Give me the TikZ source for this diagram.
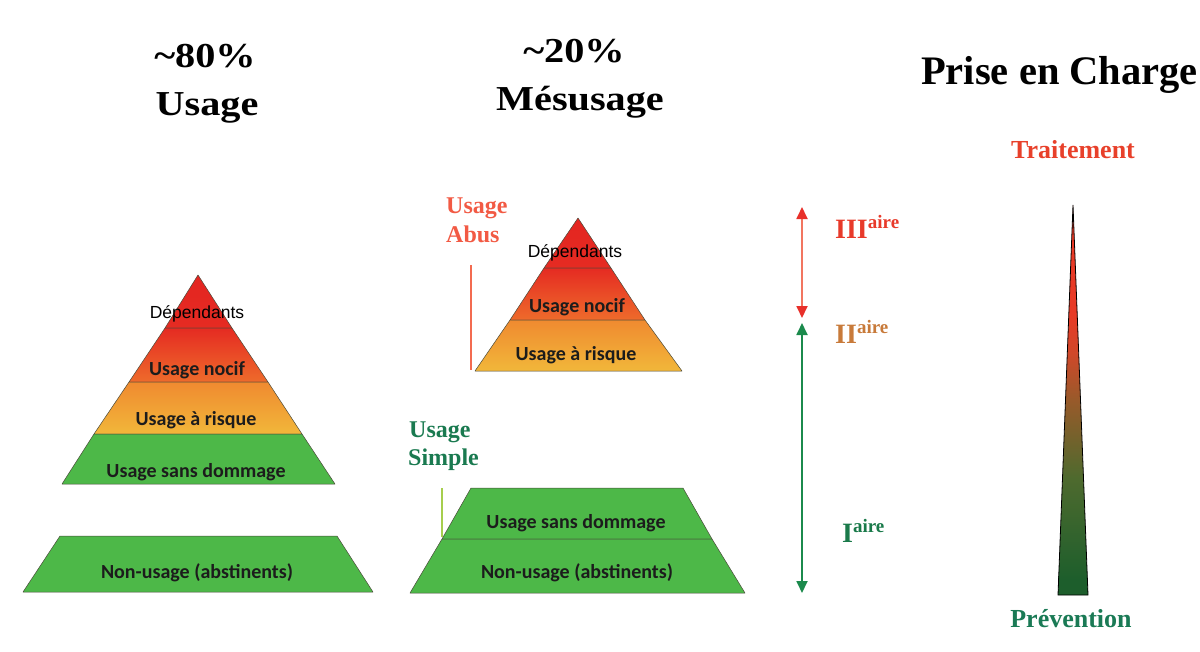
\documentclass[tikz,border=0pt]{standalone}
\usepackage{fontspec}
\setmainfont{Liberation Serif}
\newfontfamily\calfont{Carlito}
\newfontfamily\arifont{Liberation Sans}
\newfontfamily\hdrfont[FakeStretch=1.15]{Liberation Serif}
\usetikzlibrary{arrows.meta}
\definecolor{pred}{HTML}{E42521}
\definecolor{pred2}{HTML}{E52B22}
\definecolor{porng}{HTML}{EE6B2B}
\definecolor{porng2}{HTML}{F08A30}
\definecolor{pyel}{HTML}{F1B73A}
\definecolor{pgreen}{HTML}{4DB848}
\definecolor{edge}{HTML}{4A4A3A}
\definecolor{labtext}{HTML}{1C1C1C}
\definecolor{abus}{HTML}{F25A44}
\definecolor{simple}{HTML}{1A7A50}
\definecolor{rline}{HTML}{F36B50}
\definecolor{gline}{HTML}{A6CE4E}
\definecolor{rarrow}{HTML}{F27560}
\definecolor{rhead}{HTML}{E8302A}
\definecolor{garrow}{HTML}{1B8A4C}
\definecolor{tIII}{HTML}{E83A2A}
\definecolor{tII}{HTML}{C87A3A}
\definecolor{tI}{HTML}{1A7A4A}
\definecolor{trait}{HTML}{E8402A}
\definecolor{prev}{HTML}{1A7A55}
\definecolor{sg}{HTML}{1D5E2C}
\definecolor{sgo}{HTML}{4E6A2E}
\definecolor{sbr}{HTML}{985A2A}
\definecolor{sro}{HTML}{D0482A}
\definecolor{sred}{HTML}{E83A26}
\definecolor{sdk}{HTML}{5A1A10}
\pgfdeclareverticalshading{spike}{100bp}{color(0bp)=(sg); color(27bp)=(sg); color(40bp)=(sgo); color(50bp)=(sbr); color(56bp)=(sro); color(61bp)=(sred); color(72bp)=(sred); color(75bp)=(sdk); color(100bp)=(sdk)}
\tikzset{
  band/.style={draw=edge, line width=0.5pt, line join=round},
  plab/.style={font=\calfont\bfseries\fontsize{20}{24}\selectfont, text=labtext, anchor=base, inner sep=0pt},
  dlab/.style={font=\arifont\fontsize{17.5}{20}\selectfont, text=black, anchor=base, inner sep=0pt},
  hdr/.style={font=\hdrfont\bfseries\fontsize{35}{40}\selectfont, text=black, anchor=base, inner sep=0pt},
  side/.style={font=\bfseries\fontsize{24}{28}\selectfont, anchor=base west, inner sep=0pt},
  lvl/.style={font=\bfseries\fontsize{28}{32}\selectfont, anchor=base west, inner sep=0pt},
  endlab/.style={font=\bfseries\fontsize{26}{30}\selectfont, anchor=base, inner sep=0pt},
  dbl/.style={line width=1.8pt, {Triangle[length=12pt,width=11pt]}-{Triangle[length=12pt,width=11pt]}},
}
\newcommand{\aireexp}[1]{\raisebox{10pt}{\fontsize{19}{20}\selectfont #1}}
\begin{document}
\begin{tikzpicture}[x=1pt,y=-1pt]
\useasboundingbox (0,0) rectangle (1200,651);
\fill[white] (0,0) rectangle (1200,651);

% ---------- headers ----------
\node[hdr] (h80) at (205,67) {\textasciitilde80\%};
\node[hdr] (husage) at (207,115) {Usage};
\node[hdr] (h20) at (574,62) {\textasciitilde20\%};
\node[hdr] (hmes) at (580,110) {Mésusage};
\node[font=\bfseries\fontsize{40.5}{44}\selectfont, anchor=base west, inner sep=0pt] (hpec) at (921,84) {Prise en Charge};

% ---------- left pyramid ----------
\shade[band, top color=pred, bottom color=pred2] (198,275) -- (232,328) -- (165,328) -- cycle;
\shade[band, top color=pred2, bottom color=porng] (165,328) -- (232,328) -- (268,382) -- (129,382) -- cycle;
\shade[band, top color=porng2, bottom color=pyel] (129,382) -- (268,382) -- (302,434) -- (94,434) -- cycle;
\fill[band, fill=pgreen] (94,434) -- (302,434) -- (335,484) -- (62,484) -- cycle;
\fill[band, fill=pgreen] (60,536) -- (337,536) -- (373,592) -- (23,592) -- cycle;

\node[dlab] (ldep) at (197,318) {Dépendants};
\node[plab] (lnoc) at (197,375) {Usage nocif};
\node[plab] (lris) at (196,425) {Usage à risque};
\node[plab] (lsans) at (196,477) {Usage sans dommage};
\node[plab] (lnon) at (197,578) {Non-usage (abstinents)};

% ---------- middle pyramid ----------
\shade[band, top color=pred, bottom color=pred2] (578,218) -- (611,268) -- (544,268) -- cycle;
\shade[band, top color=pred2, bottom color=porng] (544,268) -- (611,268) -- (645,320) -- (510,320) -- cycle;
\shade[band, top color=porng2, bottom color=pyel] (510,320) -- (645,320) -- (682,371) -- (475,371) -- cycle;

\fill[band, fill=pgreen] (471,488) -- (683,488) -- (712,539) -- (442,539) -- cycle;
\fill[band, fill=pgreen] (442,539) -- (712,539) -- (745,593) -- (410,593) -- cycle;

\node[dlab] (mdep) at (575,257) {Dépendants};
\node[plab] (mnoc) at (577,312) {Usage nocif};
\node[plab] (mris) at (576,360) {Usage à risque};
\node[plab] (msans) at (576,528) {Usage sans dommage};
\node[plab] (mnon) at (577,578) {Non-usage (abstinents)};

% ---------- side labels ----------
\node[side, text=abus] (abus1) at (446,213) {Usage};
\node[side, text=abus] (abus2) at (446,242) {Abus};
\coordinate (ra) at (471,265);
\coordinate (rb) at (471,370);
\draw[rline, line width=1.6pt] (ra) -- (rb);

\node[side, text=simple] (simp1) at (409,437) {Usage};
\node[side, text=simple] (simp2) at (408,465) {Simple};
\coordinate (ga) at (442,488);
\coordinate (gb) at (442,537);
\draw[gline, line width=1.6pt] (ga) -- (gb);

% ---------- level arrows ----------
\coordinate (r1) at (802,207);
\coordinate (r2) at (802,318);
\coordinate (g1) at (802,323);
\coordinate (g2) at (802,593);
\draw[rarrow, line width=1.8pt, {Triangle[length=12pt,width=11pt,color=rhead]}-{Triangle[length=12pt,width=11pt,color=rhead]}] (r1) -- (r2);
\draw[dbl, garrow] (g1) -- (g2);

\node[lvl, text=tIII] (l3) at (835,238) {III\aireexp{aire}};
\node[lvl, text=tII] (l2) at (835,343) {II\aireexp{aire}};
\node[lvl, text=tI] (l1) at (842,542) {I\aireexp{aire}};

% ---------- spike ----------
\shadedraw[shading=spike, draw=black, line width=0.8pt, line join=miter] (1073,205) -- (1088,595) -- (1058,595) -- cycle;
\node[endlab, text=trait] (trait) at (1073,158) {Traitement};
\node[endlab, text=prev] (prev) at (1071,627) {Prévention};
\end{tikzpicture}
\end{document}
